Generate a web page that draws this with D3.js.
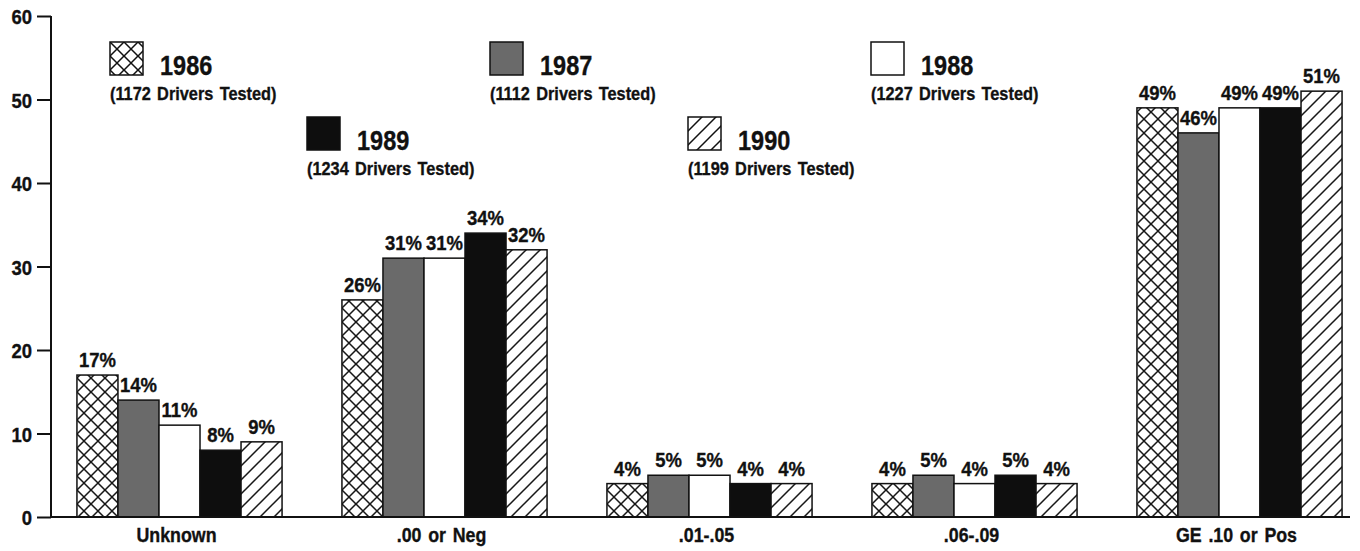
<!DOCTYPE html>
<html>
<head>
<meta charset="utf-8">
<script src="https://cdn.jsdelivr.net/npm/d3@7"></script>
<style>
  body { margin: 0; background: #fff; }
  svg text { font-family: 'Liberation Sans', Arial, sans-serif; font-weight: bold; fill: #111; stroke: #111; stroke-width: 0.35px; }
</style>
</head>
<body>
<svg id="chart"></svg>
<script>
// data
const categories = ['Unknown', '.00 or Neg', '.01-.05', '.06-.09', 'GE .10 or Pos'];
const years = ['1986', '1987', '1988', '1989', '1990'];
const driversTested = [1172, 1112, 1227, 1234, 1199];
const values = {
  '1986': [17, 26, 4, 4, 49],
  '1987': [14, 31, 5, 5, 46],
  '1988': [11, 31, 5, 4, 49],
  '1989': [8, 34, 4, 5, 49],
  '1990': [9, 32, 4, 4, 51]
};
const yTicks = [0, 10, 20, 30, 40, 50, 60];

var width = 1360;
var height = 551;
var axisLeft = 51;
var axisRight = 1350;

var svg = d3.select('#chart').attr('width', width).attr('height', height);

// squeeze text horizontally, the original uses a condensed face
function condense(sel, k) {
  sel.each(function () {
    var t = d3.select(this);
    var tx = +t.attr('x') || 0;
    var ty = +t.attr('y') || 0;
    t.attr('x', null).attr('y', null)
      .attr('transform', 'translate(' + tx + ',' + ty + ') scale(' + k + ',1)');
  });
}

// patterns for the five years
var defs = svg.append('defs');
var cross = defs.append('pattern')
  .attr('id', 'p1986').attr('patternUnits', 'userSpaceOnUse')
  .attr('width', 14).attr('height', 14);
cross.append('rect').attr('width', 14).attr('height', 14).attr('fill', '#fff');
cross.append('path')
  .attr('d', 'M-2,-2L16,16M16,-2L-2,16')
  .attr('stroke', '#111').attr('stroke-width', 1.5);

var diag = defs.append('pattern')
  .attr('id', 'p1990').attr('patternUnits', 'userSpaceOnUse')
  .attr('width', 14).attr('height', 14);
diag.append('rect').attr('width', 14).attr('height', 14).attr('fill', '#fff');
diag.append('path')
  .attr('d', 'M-2,16L16,-2M-4,4L4,-4M10,18L18,10')
  .attr('stroke', '#111').attr('stroke-width', 1.5);

var fills = {
  '1986': 'url(#p1986)',
  '1987': '#6a6a6a',
  '1988': '#fff',
  '1989': '#0e0e0e',
  '1990': 'url(#p1990)'
};

var y = d3.scaleLinear().domain([0, 60]).range([517, 16]);

var x0 = d3.scaleBand()
  .domain(categories)
  .range([47, 1372])
  .paddingInner(0.226)
  .paddingOuter(0.113);

var x1 = d3.scaleBand()
  .domain(years)
  .range([0, x0.bandwidth()]);

// y axis
var yAxis = svg.append('g')
  .attr('transform', 'translate(' + axisLeft + ',0)')
  .call(d3.axisLeft(y).tickValues(yTicks).tickSize(14).tickPadding(5));
yAxis.select('.domain').attr('stroke', '#111').attr('stroke-width', 2).attr('d', 'M0,' + y(60) + 'V' + y(0));
yAxis.selectAll('.tick line').attr('stroke', '#111').attr('stroke-width', 2);
yAxis.selectAll('.tick text')
  .style('font-size', '21px').attr('dy', '0.36em').attr('fill', '#111')
  .call(condense, 0.88);

// bars
var groups = svg.append('g')
  .selectAll('g')
  .data(categories)
  .enter()
  .append('g')
  .attr('transform', function (d) { return 'translate(' + x0(d) + ',0)'; });

groups.selectAll('rect')
  .data(function (c, i) {
    return years.map(function (yr) { return { year: yr, value: values[yr][i] }; });
  })
  .enter()
  .append('rect')
  .attr('x', function (d) { return x1(d.year); })
  .attr('y', function (d) { return y(d.value); })
  .attr('width', x1.bandwidth())
  .attr('height', function (d) { return y(0) - y(d.value); })
  .attr('fill', function (d) { return fills[d.year]; })
  .attr('stroke', '#111')
  .attr('stroke-width', 1.5);

groups.selectAll('text.val')
  .data(function (c, i) {
    return years.map(function (yr) { return { year: yr, value: values[yr][i] }; });
  })
  .enter()
  .append('text')
  .attr('class', 'val')
  .attr('x', function (d) { return x1(d.year) + x1.bandwidth() / 2; })
  .attr('y', function (d) { return y(d.value) - 8; })
  .attr('text-anchor', 'middle')
  .style('font-size', '21px')
  .text(function (d) { return d.value + '%'; })
  .call(condense, 0.88);

// x baseline
svg.append('line')
  .attr('x1', axisLeft).attr('x2', axisRight)
  .attr('y1', y(0)).attr('y2', y(0))
  .attr('stroke', '#111').attr('stroke-width', 2);

// category labels
svg.append('g')
  .selectAll('text')
  .data(categories)
  .enter()
  .append('text')
  .attr('x', function (d) { return x0(d) + x0.bandwidth() / 2 - 3; })
  .attr('y', 542)
  .attr('text-anchor', 'middle')
  .style('font-size', '20px')
  .style('word-spacing', '2px')
  .text(function (d) { return d; })
  .call(condense, 0.89);

// legend
var legendPos = [[110, 42], [490, 42], [871, 42], [307, 117], [688, 117]];
var legend = svg.append('g')
  .selectAll('g')
  .data(years)
  .enter()
  .append('g')
  .attr('transform', function (d, i) { return 'translate(' + legendPos[i][0] + ',' + legendPos[i][1] + ')'; });

legend.append('rect')
  .attr('width', 33).attr('height', 33)
  .attr('fill', function (d) { return fills[d]; })
  .attr('stroke', '#111').attr('stroke-width', 1.5);

legend.append('text')
  .attr('x', 50).attr('y', 33)
  .style('font-size', '28px')
  .text(function (d) { return d; })
  .call(condense, 0.84);

legend.append('text')
  .attr('x', 0).attr('y', 58)
  .style('font-size', '19px')
  .style('word-spacing', '2px')
  .text(function (d, i) { return '(' + driversTested[i] + ' Drivers Tested)'; })
  .call(condense, 0.86);
</script>
</body>
</html>
